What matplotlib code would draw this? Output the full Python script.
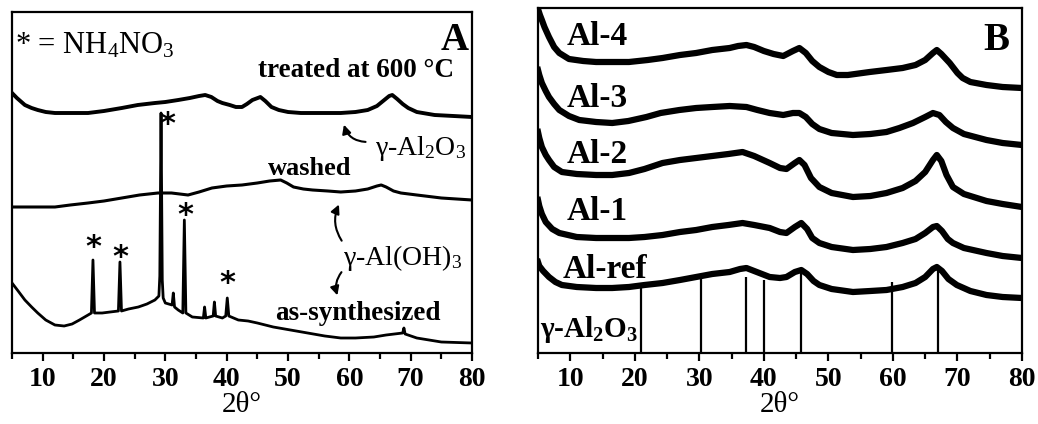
import matplotlib
matplotlib.use("Agg")
import matplotlib.pyplot as plt

plt.rcParams['font.family'] = ['Liberation Serif', 'DejaVu Serif']
plt.rcParams['mathtext.fontset'] = 'custom'
plt.rcParams['mathtext.rm'] = 'Liberation Serif'
plt.rcParams['mathtext.bf'] = 'Liberation Serif:bold'
plt.rcParams['mathtext.it'] = 'Liberation Serif:italic'

# ---- panel A: as-synthesized / washed / treated at 600 C ----
treated_x = [5, 5.8, 7.1, 8.2, 9.2, 10.5, 12, 15, 17.4, 20, 22.9, 25.5, 28.3, 30, 32.1,
             34, 35.5, 36.5, 37.5, 38.5, 39.3, 40.5, 41.5, 42.5, 43.3, 44.2, 45.5, 46.3,
             47.3, 48.5, 50, 52.1, 55, 58.6, 61, 63, 64.5, 65.5, 66.5, 67, 67.8, 68.7,
             69.6, 71, 73.9, 77, 80]
treated_y = [260, 255, 248, 245, 243, 241, 240, 240, 240, 242, 245, 248, 250, 251, 253,
             255, 257, 258, 256, 252, 250, 248, 246, 246, 249, 253, 256, 252,
             246, 243, 241, 240, 240, 240, 241, 243, 247, 252, 257, 258, 254, 249,
             245, 241, 238, 237, 236]

washed_x = [5, 8, 12, 14.5, 17.4, 20, 22.9, 25.8, 28.8, 31, 33.7, 35.5, 37.6, 40, 42.5,
            45, 47, 48.8, 49.8, 50.9, 52.5, 54, 56.5, 58.6, 61, 63, 64.5, 65.2, 66,
            67.2, 68.4, 71, 75, 80]
washed_y = [146, 146, 146, 148, 150, 152, 155, 158, 160, 160, 158, 161, 165, 167, 168,
            170, 172, 173, 170, 166, 164, 163, 162, 161, 162, 164, 167, 168, 166,
            162, 160, 158, 155, 153]

assyn_x = [5, 6, 7.1, 8.2, 9.2, 10.5, 12, 13.5, 14.8, 16, 17.4, 17.95, 18.2, 18.45, 19.7,
           21, 22.35, 22.6, 22.85, 24, 25.6, 27, 28.3, 28.95, 29.1, 29.3, 29.5, 29.65,
           30, 31.1, 31.3, 31.5, 32.1, 32.85, 33.1, 33.35, 34.4, 36.2, 36.4, 36.6, 37.8,
           38.0, 38.2, 39.3, 39.85, 40.1, 40.35, 41.9, 43.5, 45, 47.6, 50.4, 53.2, 56,
           58.6, 61, 64, 66, 68.7, 68.9, 69.1, 71, 75, 80]
assyn_y = [70, 62, 53, 46, 40, 33, 28, 27, 29, 33, 38, 40, 93, 40, 40,
           41, 42, 91, 42, 44, 46, 49, 53, 57, 77, 240, 73, 55,
           50, 48, 60, 46, 43, 40, 133, 40, 36, 35, 46, 35, 37,
           51, 37, 35, 37, 55, 37, 33, 32, 30, 26, 23, 20, 17,
           15, 15, 16, 18, 20, 25, 19, 15, 11, 10]

star_x = [18.2, 22.6, 30.4, 33.2, 40.1]
star_y = [105, 95, 229, 138, 70]

# ---- panel B: Al-ref ... Al-4 ----
al4_x = [5.05, 5.3, 5.6, 6.0, 6.7, 7.5, 8.3, 9.8, 12, 14, 17, 19.1, 22, 24.3, 27, 29.5,
         32, 34.7, 36, 37.3, 38.5, 40, 41.5, 43, 44.5, 45.5, 46.5, 47.5, 48.6, 50, 51.3,
         53, 56.4, 59, 61.5, 63.5, 65, 66.2, 66.8, 67.5, 68.8, 70, 70.8, 72, 74.5, 77, 80]
al4_y = [343, 338, 333, 326, 316, 306, 300, 294, 292, 291, 291, 291, 293, 295, 298, 300,
         303, 305, 307, 308, 306, 302, 299, 297, 302, 305, 300, 292, 286, 281, 278,
         278, 281, 283, 285, 288, 293, 300, 303, 299, 290, 280, 275, 271, 268, 266, 265]

al3_x = [5.0, 5.2, 5.6, 6.2, 6.7, 7.5, 8.3, 9.8, 11.4, 14, 16.5, 19, 21.8, 24, 26.9,
         29.5, 32, 34.7, 37.3, 39, 40.9, 43, 44.5, 45.5, 46.5, 47.5, 48.6, 50.5, 53.8,
         56.5, 59, 61, 63.1, 65, 66.2, 67.2, 68.2, 69.3, 71, 74.5, 77, 80]
al3_y = [283, 278, 270, 262, 256, 249, 243, 237, 233, 231, 230, 232, 236, 240, 243,
         245, 246, 247, 246, 243, 240, 238, 240, 240, 236, 229, 224, 220, 218,
         219, 221, 225, 230, 236, 240, 238, 231, 225, 219, 213, 210, 208]

al2_x = [5.0, 5.2, 5.6, 6.2, 6.7, 7.5, 8.7, 11, 14, 16.5, 19.1, 21.5, 24.3, 27, 29.5, 32,
         34.5, 36.7, 38.5, 40.9, 42.5, 43.5, 44.8, 45.5, 46.3, 47.3, 48.6, 50.5, 53.8,
         56.5, 59, 61.5, 63.5, 65, 66.2, 66.8, 67.5, 68.3, 69.3, 71, 74.5, 77, 80]
al2_y = [221, 215, 206, 198, 193, 186, 181, 179, 178, 178, 180, 184, 190, 193, 195, 197,
         199, 201, 197, 190, 185, 184, 190, 193, 188, 175, 166, 160, 156,
         157, 160, 165, 172, 181, 193, 198, 192, 178, 166, 159, 152, 149, 146]

al1_x = [5.0, 5.2, 5.6, 6.2, 7.2, 8.3, 11, 14, 16.5, 19.1, 21.5, 24.3, 27, 29.5, 32, 34.5,
         36.7, 38.5, 40.9, 42.5, 43.5, 44.8, 45.8, 46.7, 47.5, 48.6, 50.5, 53.8, 56.5,
         59, 61.5, 63.5, 65, 66.2, 66.8, 67.6, 68.5, 69.3, 71, 74.5, 77, 80]
al1_y = [153, 147, 139, 131, 124, 120, 116, 115, 115, 115, 116, 118, 121, 123, 126, 128,
         130, 128, 125, 121, 120, 126, 130, 124, 115, 110, 106, 103, 104,
         106, 110, 114, 120, 126, 127, 122, 114, 110, 105, 100, 97, 95]

alref_x = [5.0, 5.2, 5.8, 6.7, 7.7, 8.7, 11, 14, 16.5, 19.1, 21.5, 24.3, 27, 29.5, 32,
           34.7, 36.3, 37.3, 38.5, 40.9, 42.5, 43.5, 44.8, 45.8, 46.7, 47.7, 48.6, 50.5,
           53.8, 56.5, 59, 61.5, 63.5, 65, 66.2, 66.8, 67.6, 68.6, 69.9, 72, 74.5, 77, 80]
alref_y = [91, 87, 82, 76, 71, 68, 66, 65, 65, 66, 68, 70, 73, 76, 79,
           81, 84, 85, 82, 76, 75, 76, 81, 83, 79, 72, 68, 64,
           61, 62, 63, 66, 70, 76, 84, 86, 82, 74, 68, 62, 58, 56, 55]

ref_pos = [20.9, 30.3, 37.3, 40.0, 45.8, 59.9, 67.0]
ref_height = [65, 75, 76, 73, 80, 71, 83]

labels_b = ['Al-4', 'Al-3', 'Al-2', 'Al-1', 'Al-ref']
labels_b_y = [308, 246, 190, 133, 75]

fig = plt.figure(figsize=(10.38, 4.24), dpi=100)
axA = fig.add_axes([12 / 1038, 71 / 424, 460 / 1038, 341 / 424])
axB = fig.add_axes([538 / 1038, 71 / 424, 484 / 1038, 345 / 424])


def style_axis(ax, ymax):
    ax.set_xlim(5, 80)
    ax.set_ylim(0, ymax)
    ax.set_xticks(range(10, 81, 10))
    ax.set_xticks(range(5, 81, 5), minor=True)
    ax.set_yticks([])
    ax.tick_params(axis='x', which='major', direction='out', length=6, width=1.6, pad=4,
                   labelsize=20)
    ax.tick_params(axis='x', which='minor', direction='out', length=4, width=1.6)
    for lab in ax.get_xticklabels():
        lab.set_fontweight('bold')
    for sp in ax.spines.values():
        sp.set_linewidth(1.6)
    ax.set_xlabel('2θ°', fontsize=21, labelpad=0)


# panel A
style_axis(axA, 341)
axA.plot(treated_x, treated_y, color='black', lw=2.8)
axA.plot(washed_x, washed_y, color='black', lw=2.2)
axA.plot(assyn_x, assyn_y, color='black', lw=2.0)
for sx, sy in zip(star_x, star_y):
    axA.text(sx, sy, '*', family='DejaVu Sans', fontweight='bold', fontsize=22,
             ha='center', va='center')

axA.text(5.5, 300, '* = NH$_4$NO$_3$', fontsize=22, ha='left', va='baseline')
axA.text(79.4, 303, 'A', fontsize=28, fontweight='bold', ha='right', va='baseline')
axA.text(45.1, 276, 'treated at 600 °C', fontsize=19.5, fontweight='bold', va='baseline')
axA.text(64.2, 198, 'γ-Al$_2$O$_3$', fontsize=20, va='baseline')
axA.text(46.8, 178, 'washed', fontsize=19, fontweight='bold', va='baseline')
axA.text(59.0, 88, 'γ-Al(OH)$_3$', fontsize=20, va='baseline')
axA.text(47.9, 33, 'as-synthesized', fontsize=19.5, fontweight='bold', va='baseline')

arrow = dict(arrowstyle='-|>', color='black', lw=1.5, mutation_scale=13)
axA.annotate('', xy=(59.0, 231), xytext=(63.1, 211),
             arrowprops=dict(arrow, connectionstyle='arc3,rad=-0.4'))
axA.annotate('', xy=(58.5, 151), xytext=(59.0, 110),
             arrowprops=dict(arrow, connectionstyle='arc3,rad=-0.3'))
axA.annotate('', xy=(58.2, 55), xytext=(59.0, 83),
             arrowprops=dict(arrow, connectionstyle='arc3,rad=0.3'))

# panel B
style_axis(axB, 345)
for xs, ys in [(al4_x, al4_y), (al3_x, al3_y), (al2_x, al2_y), (al1_x, al1_y),
               (alref_x, alref_y)]:
    axB.plot(xs, ys, color='black', lw=4.5, solid_joinstyle='round')
axB.vlines(ref_pos, 0, ref_height, color='black', lw=1.6)
for lab, ly in zip(labels_b, labels_b_y):
    x0 = 8.8 if lab == 'Al-ref' else 9.4
    axB.text(x0, ly, lab, fontsize=24, fontweight='bold', va='baseline')
axB.text(78.1, 303, 'B', fontsize=28, fontweight='bold', ha='right', va='baseline')
axB.text(5.25, 16, r'γ-Al$_\mathbf{2}$O$_\mathbf{3}$', fontsize=21, fontweight='bold',
         va='baseline')

fig.savefig('out.png', dpi=100)
